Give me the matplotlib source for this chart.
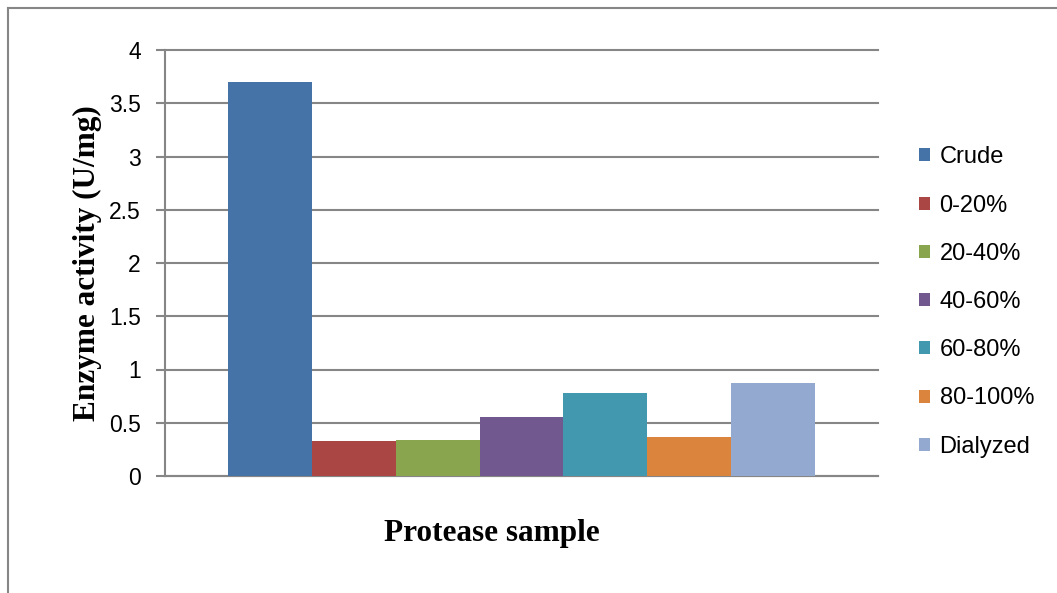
import matplotlib.pyplot as plt
from matplotlib.lines import Line2D

# data
samples = ['Crude', '0-20%', '20-40%', '40-60%', '60-80%', '80-100%', 'Dialyzed']
activity = [3.70, 0.33, 0.34, 0.555, 0.78, 0.37, 0.87]
colors = ['#4572A7', '#AA4643', '#89A54E', '#71588F', '#4198AF', '#DB843D', '#93A9CF']
yticks = [0, 0.5, 1, 1.5, 2, 2.5, 3, 3.5, 4]
ytick_labels = ['0', '0.5', '1', '1.5', '2', '2.5', '3', '3.5', '4']

W, H = 1057, 593
fig = plt.figure(figsize=(W / 100, H / 100), dpi=100)
ax = fig.add_axes([165 / W, 1 - 476 / H, (878 - 165) / W, (476 - 50) / H])

grey = '#868686'
n = len(samples)
for i, (name, val, col) in enumerate(zip(samples, activity, colors)):
    ax.bar(i - (n - 1) / 2, val, width=1.0, color=col, label=name, zorder=3)

ax.set_xlim(-4.25, 4.25)
ax.set_ylim(0, 4)
ax.set_xticks([])
ax.set_yticks(yticks)
ax.set_yticklabels(ytick_labels, fontfamily='Liberation Sans', fontsize=16.5)
ax.tick_params(axis='y', length=6.5, width=1.5, color=grey, pad=11)

ax.grid(axis='y', color=grey, linewidth=1.5, zorder=0)
for gl in ax.yaxis.get_gridlines():
    gl.set_clip_on(False)
for side in ['top', 'right']:
    ax.spines[side].set_visible(False)
for side in ['left', 'bottom']:
    ax.spines[side].set_color(grey)
    ax.spines[side].set_linewidth(1.5)

ax.set_ylabel('Enzyme activity (U/mg)', fontfamily='Liberation Serif',
              fontweight='bold', fontsize=22.5, labelpad=5)
fig.text(492 / W, 1 - 533 / H, 'Protease sample', fontfamily='Liberation Serif',
         fontweight='bold', fontsize=22.5, ha='center', va='center')

leg = fig.legend(loc='center left', bbox_to_anchor=(919 / W, 1 - 302 / H),
                 frameon=False, prop={'family': 'Liberation Sans', 'size': 17},
                 handlelength=0.47, handleheight=0.47, handletextpad=0.4,
                 labelspacing=1.11, borderpad=0, borderaxespad=0)

# outer chart frame (top and left edges visible)
fig.add_artist(Line2D([8 / W, 1], [1 - 8 / H, 1 - 8 / H], color=grey, linewidth=1.5,
                      transform=fig.transFigure))
fig.add_artist(Line2D([8 / W, 8 / W], [0, 1 - 8 / H], color=grey, linewidth=1.5,
                      transform=fig.transFigure))

fig.savefig('out.png', dpi=100)
